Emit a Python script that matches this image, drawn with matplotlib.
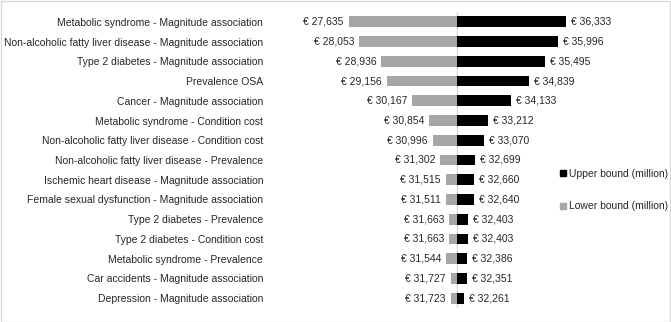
import matplotlib
matplotlib.use("Agg")
import matplotlib.pyplot as plt
from matplotlib.patches import Rectangle
from matplotlib.lines import Line2D

categories = [
    "Metabolic syndrome - Magnitude association",
    "Non-alcoholic fatty liver disease - Magnitude association",
    "Type 2 diabetes - Magnitude association",
    "Prevalence OSA",
    "Cancer - Magnitude association",
    "Metabolic syndrome - Condition cost",
    "Non-alcoholic fatty liver disease - Condition cost",
    "Non-alcoholic fatty liver disease - Prevalence",
    "Ischemic heart disease - Magnitude association",
    "Female sexual dysfunction - Magnitude association",
    "Type 2 diabetes - Prevalence",
    "Type 2 diabetes - Condition cost",
    "Metabolic syndrome - Prevalence",
    "Car accidents - Magnitude association",
    "Depression - Magnitude association",
]
lower = [27635, 28053, 28936, 29156, 30167, 30854, 30996, 31302, 31515, 31511,
         31663, 31663, 31544, 31727, 31723]
upper = [36333, 35996, 35495, 34839, 34133, 33212, 33070, 32699, 32660, 32640,
         32403, 32403, 32386, 32351, 32261]
base = 31970

plt.rcParams['font.family'] = ['Liberation Sans', 'DejaVu Sans']
W, H = 671, 322
fig = plt.figure(figsize=(W / 100, H / 100), dpi=100)
fig.patches.append(Rectangle((0.5 / W, 0.5 / H), 1 - 1.5 / W, 1 - 1.5 / H,
                             transform=fig.transFigure, fill=False,
                             edgecolor="#D9D9D9", linewidth=1))

left_px, right_px, top_px, bot_px = 270, 640, 12, 308
ax = fig.add_axes([left_px / W, 1 - bot_px / H, (right_px - left_px) / W, (bot_px - top_px) / H])

upx = 40.0  # data units per pixel
ax.set_xlim(base - (457 - left_px) * upx, base + (right_px - 457) * upx)
ax.set_ylim(len(categories) - 0.5, -0.5)

y = list(range(len(categories)))
gray = "#A6A6A6"
txt = "#262626"
ax.barh(y, [l - base for l in lower], left=base, height=0.55, color=gray, label="Lower bound (million)")
ax.barh(y, [u - base for u in upper], left=base, height=0.55, color="black", label="Upper bound (million)")
ax.axvline(base, color="#D9D9D9", linewidth=1, zorder=0)

off = 5 * upx
for i in y:
    ax.text(lower[i] - off, i, f"€ {lower[i]:,}", ha="right", va="center", fontsize=7.5, color=txt)
    ax.text(upper[i] + off, i, f"€ {upper[i]:,}", ha="left", va="center", fontsize=7.5, color=txt)

ax.set_yticks(y)
ax.set_yticklabels(categories, fontsize=7.5, color=txt)
ax.tick_params(axis="y", length=0, pad=5)
ax.set_xticks([])
for s in ax.spines.values():
    s.set_visible(False)

handles = [Line2D([], [], marker="s", color="black", linestyle="none", markersize=4),
           Line2D([], [], marker="s", color=gray, linestyle="none", markersize=4)]
fig.legend(handles, ["Upper bound (million)", "Lower bound (million)"],
           loc="center left", bbox_to_anchor=(550 / W, 1 - 190 / H), frameon=False,
           fontsize=7.5, handlelength=0.6, handletextpad=0.3, labelspacing=2.2,
           labelcolor=txt)

fig.savefig("out.png", dpi=100)
